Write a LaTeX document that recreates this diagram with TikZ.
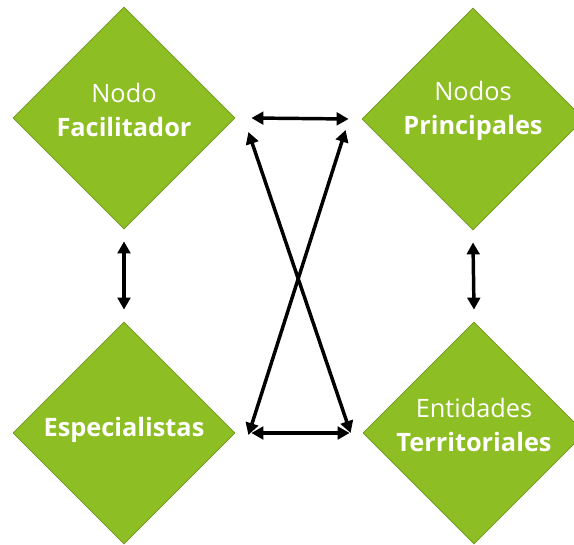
\documentclass[tikz,border=0pt]{standalone}
\usepackage{fontspec}
\setmainfont{Open Sans}
\usepackage{tikz}
\usetikzlibrary{shapes.geometric, arrows.meta}

\definecolor{leaf}{RGB}{141,190,36}
\definecolor{leafdark}{RGB}{110,152,28}

\tikzset{
	rombo/.style={diamond, aspect=1, draw=leafdark, line width=0.6pt, fill=leaf,
		minimum size=222*0.75pt, inner sep=0pt},
	rombotext/.style={text=white, align=center, inner sep=0pt,
		font=\fontsize{19}{25}\selectfont},
	link/.style={line width=2.6pt, {Triangle[length=9pt,width=9.5pt]}-{Triangle[length=9pt,width=9.5pt]}}
}

\begin{document}
\begin{tikzpicture}[x=0.75pt, y=-0.75pt]
		
		\useasboundingbox (0,0) rectangle (574,545);
		
		%%% the four nodes
		\node[rombo] (fac) at (124,118) {};
		\node[rombo] (prin) at (473,119) {};
		\node[rombo] (esp) at (124,433) {};
		\node[rombo] (ent) at (474,433) {};
		
		\node[rombotext] (facT) at ([yshift=6pt]fac.center) {Nodo\\\textbf{Facilitador}};
		\node[rombotext] (prinT) at ([yshift=6pt]prin.center) {Nodos\\\textbf{Principales}};
		\node[rombotext] (espT) at ([yshift=2pt]esp.center) {\textbf{Especialistas}};
		\node[rombotext] (entT) at ([yshift=6pt]ent.center) {Entidades\\\textbf{Territoriales}};
		
		%%% horizontal
		\draw[link] ([xshift=16*0.75pt]fac.east) -- ([xshift=-13*0.75pt]prin.west);
		\draw[link] ([xshift=16*0.75pt]esp.east) -- ([xshift=-13*0.75pt]ent.west);
		
		%%% vertical
		\draw[link] ([yshift=-12*0.75pt]fac.south) -- ([yshift=12*0.75pt]esp.north);
		\draw[link] ([yshift=-12*0.75pt]prin.south) -- ([yshift=12*0.75pt]ent.north);
		
		%%% diagonals
		\draw[link] ([shift={(13,14)}]fac.east) -- ([shift={(-12,0)}]ent.west);
		\draw[link] ([shift={(-16,11)}]prin.west) -- ([shift={(13,2)}]esp.east);
		
	\end{tikzpicture}
\end{document}
